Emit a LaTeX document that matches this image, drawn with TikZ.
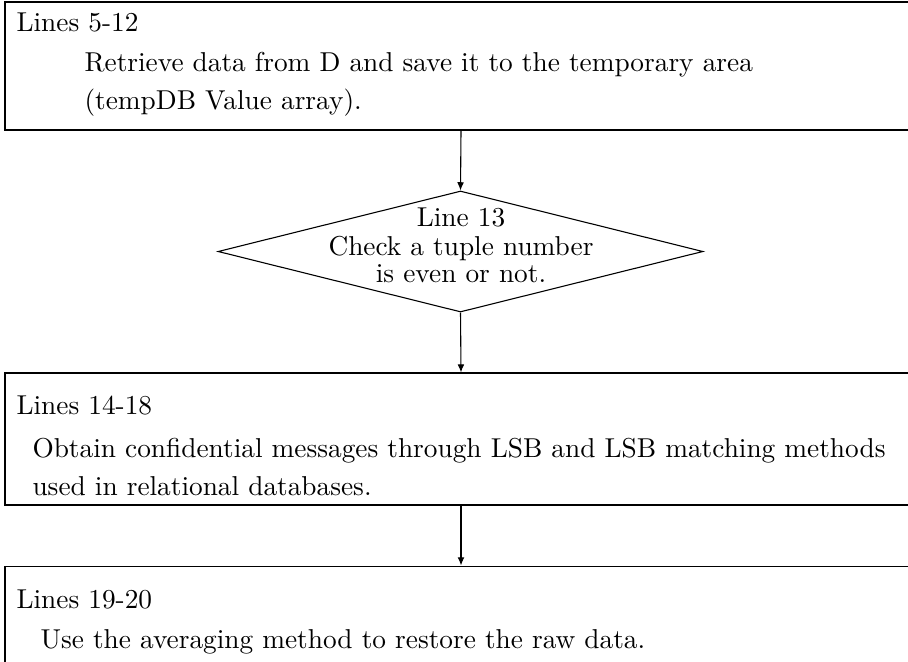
\documentclass[tikz,border=0pt]{standalone}
\usetikzlibrary{shapes.geometric,arrows.meta}
\begin{document}
\begin{tikzpicture}[x=0.366pt,y=-0.366pt,
  boxnode/.style={draw,rectangle,inner sep=0pt,line width=0.4pt},
  decnode/.style={draw,diamond,inner sep=0pt,line width=0.4pt},
  txt/.style={anchor=base west,inner sep=0pt,font=\normalsize},
  ctxt/.style={anchor=base,inner sep=0pt,font=\normalsize},
  conn/.style={-{Latex[length=3pt,width=2.5pt]},line width=0.4pt}]
\useasboundingbox (0,0) rectangle (908,661);
\clip (0,0) rectangle (908,661);
% boxes
\node[boxnode,minimum width=333.8pt,minimum height=46.85pt] (b1) at (461,66) {};
\node[decnode,minimum width=177.5pt,minimum height=44.3pt] (d1) at (460.5,251.5) {};
\node[boxnode,minimum width=333.8pt,minimum height=48.3pt] (b3) at (461,439) {};
\node[boxnode,minimum width=333.8pt,minimum height=41.7pt] (b4) at (461,623) {};
% texts
\node[txt] (t1a) at (16,32) {Lines 5-12};
\node[txt] (t1b) at (84,71) {Retrieve data from D and save it to the temporary area};
\node[txt] (t1c) at (84,109) {(tempDB Value array).};
\node[ctxt] (t2a) at (461,226) {Line 13};
\node[ctxt] (t2b) at (461,255) {Check a tuple number};
\node[ctxt] (t2c) at (461,282) {is even or not.};
\node[txt] (t3a) at (16,414) {Lines 14-18};
\node[txt] (t3b) at (32,457) {Obtain confidential messages through LSB and LSB matching methods};
\node[txt] (t3c) at (32,495) {used in relational databases.};
\node[txt] (t4a) at (16,608) {Lines 19-20};
\node[txt] (t4b) at (40,648) {Use the averaging method to restore the raw data.};
% connectors
\draw[conn] (b1.south) -- (d1.north);
\draw[conn] (d1.south) -- (b3.north);
\draw[conn] (b3.south) -- (b4.north);
\end{tikzpicture}
\end{document}
